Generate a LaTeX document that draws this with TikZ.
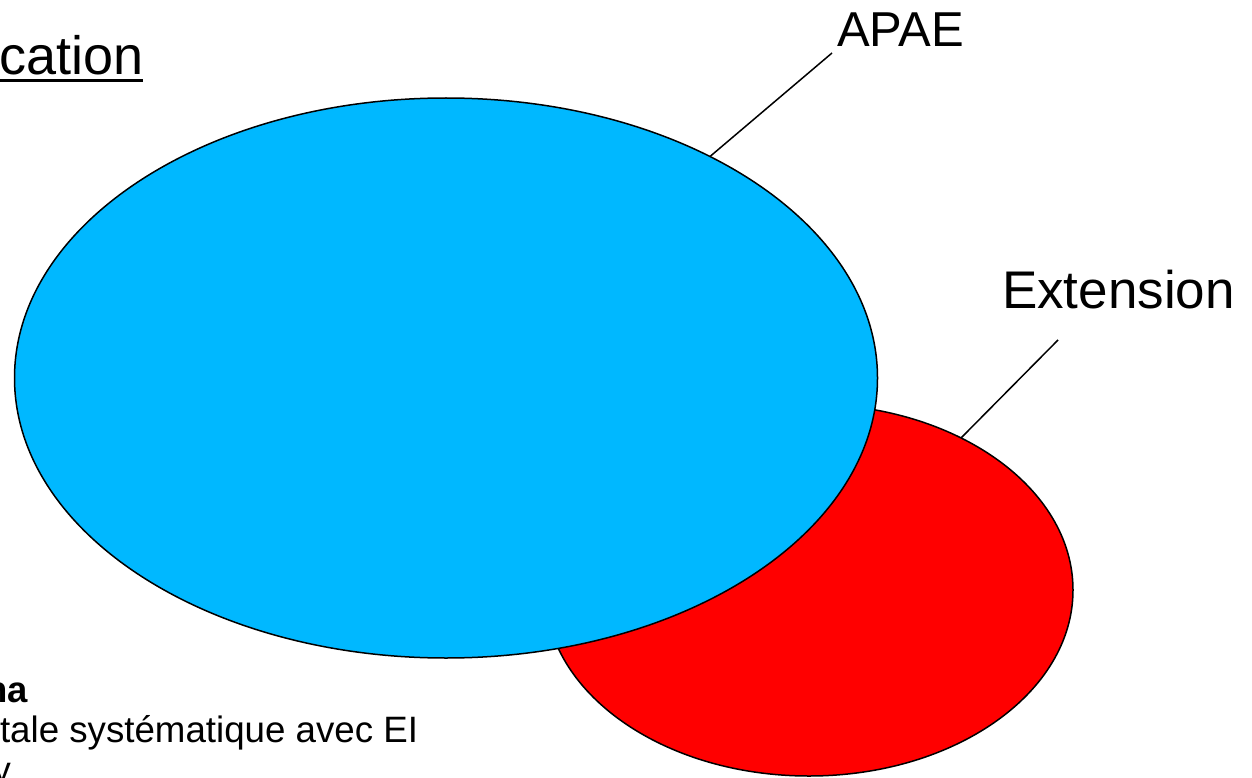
\documentclass[tikz,border=0pt]{standalone}
\usepackage{fontspec}
\setmainfont{Liberation Sans}
\usetikzlibrary{shapes.geometric}
\definecolor{apaeblue}{RGB}{0,184,255}
\definecolor{extred}{RGB}{255,0,0}

\begin{document}
\begin{tikzpicture}[x=1pt, y=-1pt,
  blob/.style={ellipse, draw=black, line width=1.5pt, inner sep=0pt, outer sep=0pt},
  txt/.style={anchor=base west, inner sep=0pt, outer sep=0pt}]
\useasboundingbox (0,0) rectangle (1252,778);
\node[blob, fill=extred, minimum width=528pt, minimum height=372pt] (ext) at (809,590) {};
\node[blob, fill=apaeblue, minimum width=863pt, minimum height=560pt] (apae) at (446,378) {};
\node[txt, font=\fontsize{54pt}{60pt}\selectfont] (title) at (-1,75) {cation};
\draw[line width=3pt] ([yshift=-6pt]title.base west) -- ([yshift=-6pt]title.base east);
\node[txt, font=\fontsize{49pt}{56pt}\selectfont] (apaelabel) at (837,47) {APAE};
\node[txt, font=\fontsize{53pt}{60pt}\selectfont] (extlabel) at (1002,308) {Extension};
\coordinate (apaetip) at (832,53);
\coordinate (exttip) at (1058,340);
\draw[line width=1.5pt] (apaetip) -- (apae.40);
\draw[line width=1.5pt] (exttip) -- (ext.45);
\node[txt, anchor=base east, font=\bfseries\fontsize{36.5pt}{40pt}\selectfont] (notehead) at (28,702) {na};
\node[txt, font=\fontsize{36.7pt}{40pt}\selectfont] (noteline) at (0,742) {tale systématique avec EI};
\node[txt, anchor=base east, font=\fontsize{36.5pt}{40pt}\selectfont] (notetail) at (11,782) {y};
\end{tikzpicture}
\end{document}
